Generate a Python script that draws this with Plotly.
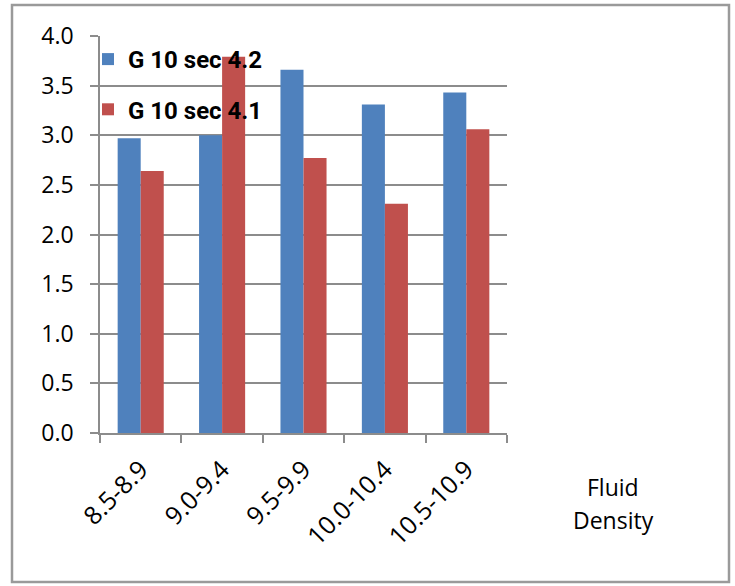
import plotly.graph_objects as go

categories = ["8.5-8.9", "9.0-9.4", "9.5-9.9", "10.0-10.4", "10.5-10.9"]
series_a_name = "G 10 sec 4.2"
series_a = [2.97, 3.00, 3.66, 3.31, 3.43]
series_b_name = "G 10 sec 4.1"
series_b = [2.64, 3.79, 2.77, 2.31, 3.06]

W, H = 735, 586
L, R, T, B = 100, 228, 36, 153
pw = W - L - R
ph = H - T - B

def px_x(x):
    return (x - L) / pw

def px_y(y):
    return (H - B - y) / ph

FONT = "Open Sans, Roboto, sans-serif"

fig = go.Figure()
fig.add_trace(go.Bar(x=categories, y=series_a, name=series_a_name,
                     marker=dict(color="#4F81BD", line=dict(width=0)),
                     legendgroup="a"))
fig.add_trace(go.Bar(x=categories, y=series_b, name=series_b_name,
                     marker=dict(color="#C0504D", line=dict(width=0)),
                     legendgroup="b"))

fig.update_layout(
    width=W, height=H,
    margin=dict(l=L, r=R, t=T, b=B, pad=0),
    paper_bgcolor="white", plot_bgcolor="white",
    barmode="group", bargap=0.434, bargroupgap=0,
    font=dict(family=FONT, size=22, color="#000"),
    legend=dict(x=px_x(88), y=px_y(37), xanchor="left", yanchor="top",
                bgcolor="rgba(0,0,0,0)",
                font=dict(family="Roboto, sans-serif", size=24, color="#000", weight="bold"),
                tracegroupgap=16, itemsizing="constant"),
    showlegend=True,
)
fig.update_yaxes(range=[0, 4], dtick=0.5, tickformat=".1f",
                 tickfont=dict(family=FONT, size=23, color="#000"),
                 ticklabelstandoff=12,
                 showgrid=True, gridcolor="#8c8c8c", gridwidth=1.5,
                 showline=True, linecolor="#8c8c8c", linewidth=1.5,
                 ticks="outside", ticklen=8, tickcolor="#8c8c8c", tickwidth=1.5,
                 zeroline=False, fixedrange=True)
fig.update_xaxes(tickfont=dict(family=FONT, size=25, color="#000"),
                 ticklabelstandoff=10,
                 showline=True, linecolor="#8c8c8c", linewidth=1.5,
                 ticks="outside", ticklen=8, tickcolor="#8c8c8c", tickwidth=1.5,
                 tickson="boundaries", tickangle=-45, showgrid=False)

fig.add_shape(type="rect", xref="paper", yref="paper",
              x0=px_x(12), x1=px_x(729), y0=px_y(582), y1=px_y(5),
              line=dict(color="#9a9a9a", width=2.5), fillcolor="rgba(0,0,0,0)", layer="below")

fig.add_annotation(text="Fluid", xref="paper", yref="paper", x=px_x(613), y=px_y(487),
                   xanchor="center", yanchor="middle",
                   showarrow=False, font=dict(family=FONT, size=23, color="#000"))
fig.add_annotation(text="Density", xref="paper", yref="paper", x=px_x(613), y=px_y(520),
                   xanchor="center", yanchor="middle",
                   showarrow=False, font=dict(family=FONT, size=23, color="#000"))

fig.write_html("out.html")
